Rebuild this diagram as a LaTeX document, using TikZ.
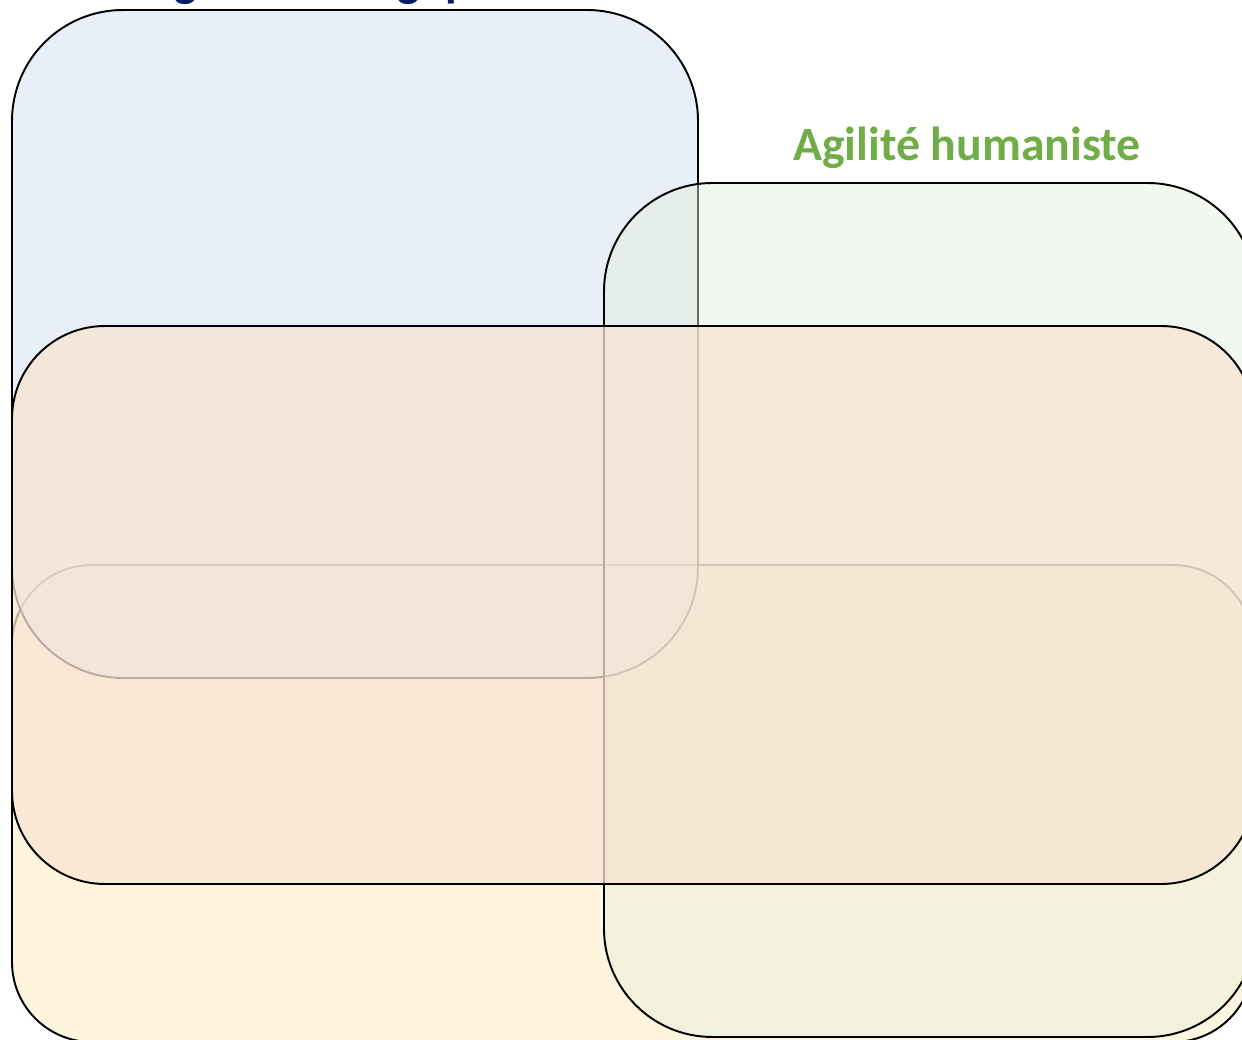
\documentclass[tikz,border=0pt]{standalone}
\usepackage{fontspec}
\setmainfont{Carlito}
\definecolor{stratC}{RGB}{0,32,96}
\definecolor{humanC}{RGB}{112,173,71}
\definecolor{boxBlue}{RGB}{217,228,245}
\definecolor{boxGreen}{RGB}{226,237,219}
\definecolor{boxYellow}{RGB}{255,245,222}
\definecolor{boxOrange}{RGB}{248,228,211}
\tikzset{
    zone/.style    = {draw=black, line width=1.1pt},
    zoneBlue/.style   = {zone, fill=boxBlue, fill opacity=0.6, rounded corners=2.22cm},
    zoneGreen/.style  = {zone, fill=boxGreen, fill opacity=0.45, rounded corners=2.17cm},
    zoneYellow/.style = {zone, fill=boxYellow, rounded corners=1.6cm},
    zoneOrange/.style = {zone, fill=boxOrange, fill opacity=0.75, rounded corners=1.86cm},
    title/.style   = {font=\bfseries\fontsize{27.2}{32}\selectfont, inner sep=0pt, anchor=base},
}

\begin{document}
\begin{tikzpicture}[x=0.02cm, y=-0.02cm]
    \useasboundingbox (0,0) rectangle (1242,1040);
    \clip (0,0) rectangle (1242,1040);
    % zones, back to front
    \draw[zoneYellow] (12,565) rectangle (1253,1042);
    \draw[zoneBlue]   (12,10) rectangle (698,678);
    \draw[zoneGreen]  (604,183) rectangle (1256,1037);
    \draw[zoneOrange] (12,326) rectangle (1254,884);
    % titles
    \node[title, text=stratC] (strat) at (326,-3) {Agilité stratégique};
    \node[title, text=humanC] (human) at (967,161) {Agilité humaniste};
\end{tikzpicture}
\end{document}
